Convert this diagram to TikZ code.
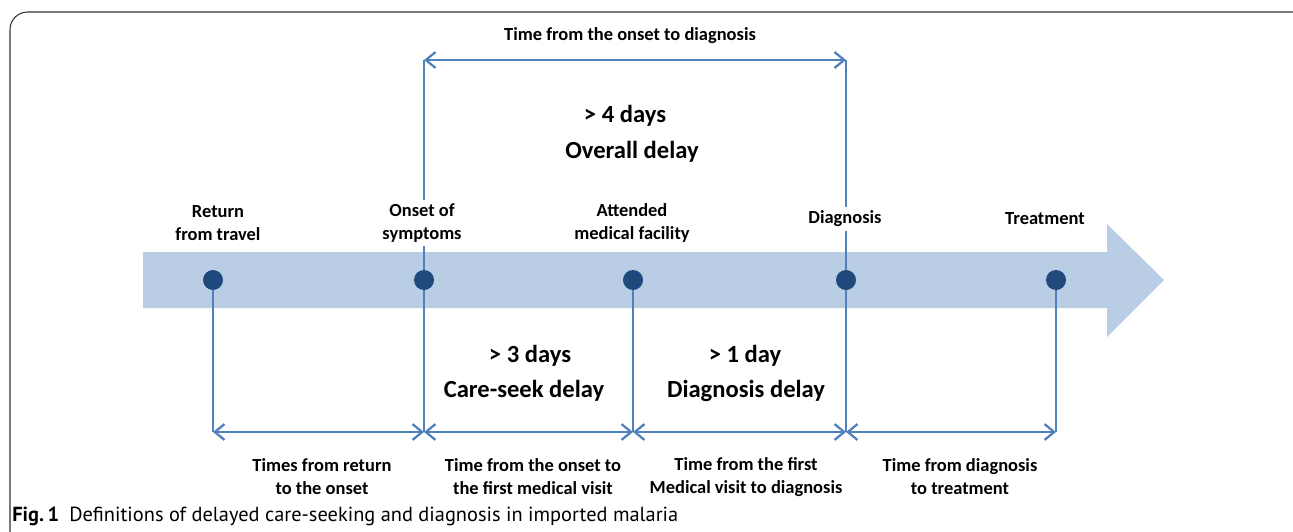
\documentclass[tikz,border=0pt]{standalone}
\usepackage{fontspec}
\setmainfont{Carlito}
\newfontfamily\capfont{PT Sans}
\usetikzlibrary{arrows.meta}
\definecolor{bandblue}{HTML}{B9CDE5}
\definecolor{dotblue}{HTML}{1F497D}
\definecolor{lineblue}{HTML}{4F81BD}
\tikzset{
  dot/.style={circle,fill=dotblue,inner sep=0pt,minimum size=0.4cm},
  event/.style={align=center,inner sep=2pt,font=\fontsize{10.5}{13}\selectfont\bfseries},
  period/.style={align=center,inner sep=2pt,font=\fontsize{10.5}{13}\selectfont\bfseries},
  delay/.style={inner sep=2pt,font=\fontsize{14}{16}\selectfont\bfseries},
  link/.style={draw=lineblue,line width=1.3pt},
  span/.style={link,{Straight Barb[length=5.5pt,width=9pt]}-{Straight Barb[length=5.5pt,width=9pt]}}
}
\begin{document}
\begin{tikzpicture}[x=0.02cm,y=-0.02cm]
      \useasboundingbox (0,0) rectangle (1293,531);
      \begin{scope}
        \clip (0,0) rectangle (1293,531);
        \draw[black!80,line width=0.6pt,rounded corners=10] (10,12) rectangle (1310,560);
      \end{scope}
      \fill[bandblue] (143,252) -- (1107,252) -- (1107,224) -- (1164,280)
        -- (1107,337) -- (1107,308) -- (143,308) -- cycle;
      \draw
        (213,280) node[dot] (ret){}
        (424,280) node[dot] (onset){}
        (633,280) node[dot] (visit){}
        (846,280) node[dot] (diag){}
        (1056,280) node[dot] (treat){};
      \draw
        (218,223) node[event] (retlbl){Return\\from travel}
        (422,223) node[event] (onsetlbl){Onset of\\symptoms}
        (632,223) node[event] (visitlbl){Attended\\medical facility}
        (845,219) node[event] (diaglbl){Diagnosis}
        (1045,219) node[event] (treatlbl){Treatment};
      \coordinate (onsettop) at (424,60);
      \coordinate (diagtop) at (846,60);
      \coordinate (retbot) at (213,432);
      \coordinate (onsetbot) at (424,432);
      \coordinate (visitbot) at (633,432);
      \coordinate (diagbot) at (846,432);
      \coordinate (treatbot) at (1056,432);
      \begin{scope}[link]
        \draw (onsettop) -- (onsettop |- onsetlbl.north);
        \draw (onsettop |- onsetlbl.south) -- (onset.north);
        \draw (diagtop) -- (diagtop |- diaglbl.north);
        \draw (diagtop |- diaglbl.south) -- (diag.north);
        \draw (ret.south) -- (retbot);
        \draw (onset.south) -- (onsetbot);
        \draw (visit.south) -- (visitbot);
        \draw (diag.south) -- (diagbot);
        \draw (treat.south) -- (treatbot);
      \end{scope}
      \begin{scope}[span]
        \draw (onsettop) to (diagtop);
        \draw (retbot) to (onsetbot);
        \draw (onsetbot) to (visitbot);
        \draw (visitbot) to (diagbot);
        \draw (diagbot) to (treatbot);
      \end{scope}
      \draw
        (630,36) node[period] (overalltime){Time from the onset to diagnosis}
        (625,116) node[delay] (overalldays){> 4 days}
        (632,152) node[delay] (overall){Overall delay}
        (530,356) node[delay] (careseekdays){> 3 days}
        (524,391) node[delay] (careseek){Care-seek delay}
        (745,356) node[delay] (diagdays){> 1 day}
        (746,391) node[delay] (diagdelay){Diagnosis delay}
        (322,477) node[period] (rettime){Times from return\\to the onset}
        (533,477) node[period] (onsettime){Time from the onset to\\the first medical visit}
        (746,477) node[period] (visittime){Time from the first\\Medical visit to diagnosis}
        (960,477) node[period] (diagtime){Time from diagnosis\\to treatment};
      \node[anchor=base west,inner sep=0pt,font=\capfont\fontsize{11.6}{13}\selectfont] (caption)
        at (12,521) {\textbf{Fig.\,1}\enspace Definitions of delayed care-seeking and diagnosis in imported malaria};
    \end{tikzpicture}
\end{document}
